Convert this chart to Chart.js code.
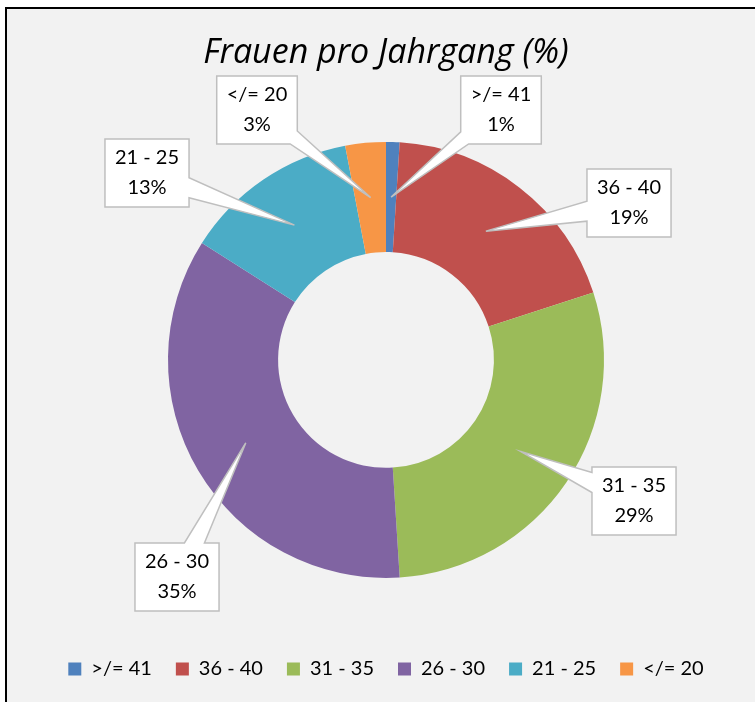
<!DOCTYPE html>
<html>
<head>
<meta charset="utf-8">
<script src="https://cdn.jsdelivr.net/npm/chart.js@4.4.0/dist/chart.umd.min.js"></script>
<style>
    html, body { margin: 0; padding: 0; background: #fff; }
    #frame {
        position: absolute; left: 5px; top: 7px; width: 760px; height: 700px;
        border-left: 2px solid #000; border-top: 2px solid #000; background: #f2f2f2;
    }
    #wrap { position: absolute; left: 0; top: 0; width: 755px; height: 702px; }
</style>
</head>
<body>
<div id="frame"></div>
<div id="wrap"><canvas id="womenChart"></canvas></div>
<script>
// Age groups and their share of women (%)
const categories = ['>/= 41', '36 - 40', '31 - 35', '26 - 30', '21 - 25', '</= 20'];
const shares = [1, 19, 29, 35, 13, 3];
const sliceColors = ['#4f81bd', '#c0504d', '#9bbb59', '#8064a2', '#4bacc6', '#f79646'];

// Callout box centres, relative to the ring centre
const calloutOffsets = [[115, -250], [243, -157], [248, 141], [-209, 217], [-239, -187], [-129, -250]];

const FONT = "Lato, 'Open Sans', sans-serif";

// point on a rectangle border, s measured clockwise from the top-left corner
function borderPoint(x, y, w, h, s) {
    const P = 2 * (w + h);
    s = ((s % P) + P) % P;
    if (s < w) return [x + s, y];
    if (s < w + h) return [x + w, y + (s - w)];
    if (s < 2 * w + h) return [x + w - (s - w - h), y + h];
    return [x, y + h - (s - 2 * w - h)];
}

function borderParam(x, y, w, h, px, py) {
    const d = [Math.abs(py - y), Math.abs(px - (x + w)), Math.abs(py - (y + h)), Math.abs(px - x)];
    const e = d.indexOf(Math.min(...d));
    if (e === 0) return px - x;
    if (e === 1) return w + (py - y);
    if (e === 2) return w + h + (x + w - px);
    return 2 * w + h + (y + h - py);
}

// Excel-like callouts: white box with a wedge pointing into the slice
const calloutPlugin = {
    id: 'callouts',
    afterDatasetsDraw(chart, args, opts) {
        const ctx = chart.ctx;
        const meta = chart.getDatasetMeta(0);
        ctx.save();
        ctx.font = opts.size + 'px ' + FONT;
        meta.data.forEach((arc, i) => {
            const tip = arc.getCenterPoint();
            const cx = arc.x + opts.offsets[i][0];
            const cy = arc.y + opts.offsets[i][1];
            const lines = [categories[i], shares[i] + '%'];
            const w = Math.max(...lines.map(t => ctx.measureText(t).width)) + 2 * opts.padX;
            const h = lines.length * opts.lineHeight + 2 * opts.padY;
            const x = cx - w / 2, y = cy - h / 2;

            // where the line centre -> tip leaves the box
            const dx = tip.x - cx, dy = tip.y - cy;
            const t = Math.min(dx ? (w / 2) / Math.abs(dx) : Infinity, dy ? (h / 2) / Math.abs(dy) : Infinity);
            const sp = borderParam(x, y, w, h, cx + dx * t, cy + dy * t);
            const P = 2 * (w + h);
            const s0 = sp - opts.base / 2, s1 = sp + opts.base / 2;

            const corners = [];
            [0, w, w + h, 2 * w + h].forEach(c => {
                [c, c + P, c - P, c + 2 * P].forEach(v => {
                    if (v > s1 && v < s0 + P) corners.push(v);
                });
            });
            corners.sort((a, b) => a - b);

            ctx.beginPath();
            let p = borderPoint(x, y, w, h, s1);
            ctx.moveTo(p[0], p[1]);
            corners.forEach(c => {
                const q = borderPoint(x, y, w, h, c);
                ctx.lineTo(q[0], q[1]);
            });
            p = borderPoint(x, y, w, h, s0);
            ctx.lineTo(p[0], p[1]);
            ctx.lineTo(tip.x, tip.y);
            ctx.closePath();
            ctx.fillStyle = '#ffffff';
            ctx.fill();
            ctx.lineWidth = 1.5;
            ctx.strokeStyle = '#bfbfbf';
            ctx.lineJoin = 'miter';
            ctx.stroke();

            ctx.fillStyle = '#000000';
            ctx.textAlign = 'center';
            ctx.textBaseline = 'middle';
            lines.forEach((txt, k) => {
                ctx.fillText(txt, cx, y + opts.padY + opts.lineHeight * (k + 0.5));
            });
        });
        ctx.restore();
    }
};

const config = {
    type: 'doughnut',
    data: {
        labels: categories,
        datasets: [{
            data: shares,
            backgroundColor: sliceColors,
            borderWidth: 0,
            radius: 218,
            cutout: '49.5%'
        }]
    },
    options: {
        responsive: true,
        maintainAspectRatio: false,
        animation: false,
        layout: { padding: { left: 17, right: 0, top: 0, bottom: 13 } },
        plugins: {
            title: {
                display: true,
                text: 'Frauen pro Jahrgang (%)',
                color: '#000',
                font: { family: "'Open Sans', sans-serif", size: 34, style: 'italic', weight: 'normal' },
                padding: { top: 33, bottom: 11 }
            },
            legend: {
                position: 'bottom',
                labels: {
                    color: '#000',
                    font: { family: FONT, size: 20 },
                    boxWidth: 13,
                    boxHeight: 13,
                    padding: 24
                }
            },
            tooltip: { enabled: false },
            callouts: {
                offsets: calloutOffsets,
                size: 20,
                lineHeight: 30,
                padX: 10,
                padY: 4,
                base: 20
            }
        }
    },
    plugins: [calloutPlugin]
};

const chartContext = document.getElementById('womenChart').getContext('2d');
const womenChart = new Chart(chartContext, config);
</script>
</body>
</html>
